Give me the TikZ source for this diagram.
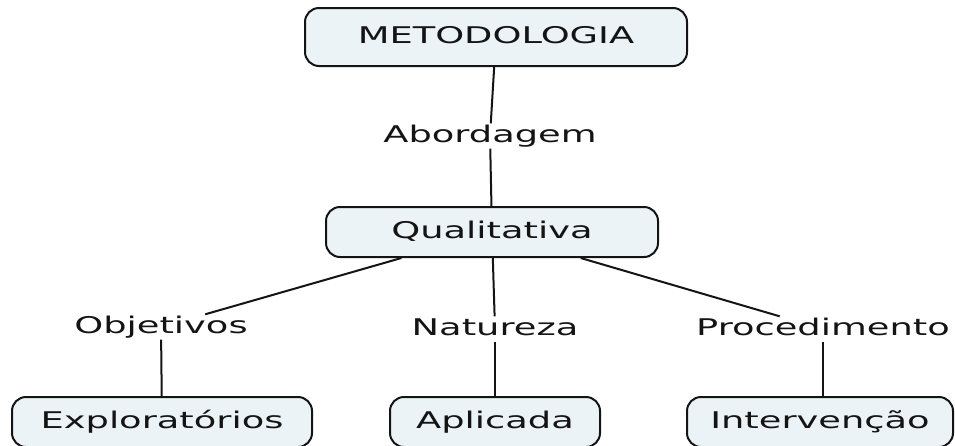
\documentclass[tikz,border=0pt]{standalone}
\usepackage{fontspec}
\setmainfont{DejaVu Sans}
\usepackage{tikz}
\definecolor{boxfill}{RGB}{236,243,246}
\definecolor{inkdark}{RGB}{20,20,20}
\newcommand{\widetxt}[1]{\scalebox{1.6}[1]{#1}}

\begin{document}
\begin{tikzpicture}[x=1pt, y=-1pt,
		every node/.style={font=\fontsize{23}{26}\selectfont, text=inkdark, text height=17pt, text depth=5pt},
		conceptbox/.style={rectangle, rounded corners=14pt, fill=boxfill, draw=inkdark, line width=2pt, minimum height=50pt},
		linklabel/.style={inner sep=1.5pt},
		link/.style={line width=2pt, color=inkdark}]
				\clip (0,0) rectangle (955,445);
				% [every node/.style={inner sep=0pt}]
				\node (meto) [conceptbox, minimum width=382pt, minimum height=58pt] at (496, 37) {\widetxt{METODOLOGIA}};
				\node (quali) [conceptbox, minimum width=332pt] at (492, 232) {\widetxt{Qualitativa}};
				\node (explo) [conceptbox, minimum width=300pt] at (162, 422) {\widetxt{Exploratórios}};
				\node (aplic) [conceptbox, minimum width=210pt] at (495, 422) {\widetxt{Aplicada}};
				\node (interv) [conceptbox, minimum width=266pt] at (820, 422) {\widetxt{Intervenção}};
				\node (abord) [linklabel] at (490, 136) {\widetxt{Abordagem}};
				\node (objet) [linklabel] at (161, 327) {\widetxt{Objetivos}};
				\node (natur) [linklabel] at (495, 329) {\widetxt{Natureza}};
				\node (proced) [linklabel] at (823, 329) {\widetxt{Procedimento}};
				\draw [link] (meto) to (abord);
				\draw [link] (abord) to (quali);
				\draw [link] (quali) to (objet);
				\draw [link] (quali) to (natur);
				\draw [link] (quali) to (proced);
				\draw [link] (objet) to (explo);
				\draw [link] (natur) to (aplic);
				\draw [link] (proced.south) to (proced.south |- interv.north);
			\end{tikzpicture}
\end{document}
